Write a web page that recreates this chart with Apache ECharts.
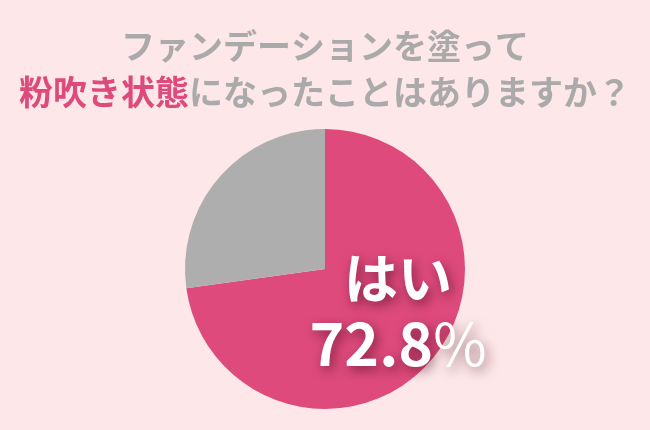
<!DOCTYPE html>
<html><head><meta charset="utf-8">
<script src="https://cdn.jsdelivr.net/npm/echarts@6/dist/echarts.min.js"></script>
<style>html,body{margin:0;padding:0;background:#fde7e8;}#c{width:650px;height:430px;}</style>
</head><body><div id="c"></div>
<script>
var titleLine1 = 'ファンデーションを塗って';
var titleHighlight = '粉吹き状態';
var titleRest = 'になったことはありますか？';
var categories = ['はい', 'いいえ'];
var values = [72.8, 27.2];
var colors = ['#de4a7c', '#aeaeae'];

var chart = echarts.init(document.getElementById('c'));
var FONT = '"Noto Sans CJK JP", "Noto Sans", sans-serif';
var SH = {textShadowColor: 'rgba(60,0,20,0.55)', textShadowBlur: 12, textShadowOffsetX: 3, textShadowOffsetY: 4};
function rs(o) { return Object.assign({}, SH, o); }
chart.setOption({
  backgroundColor: '#fde7e8',
  title: [{
    text: titleLine1,
    left: 'center', top: 24,
    textStyle: {fontFamily: FONT, fontSize: 34, fontWeight: 'bold', color: '#aaaaaa'}
  }, {
    text: '{p|' + titleHighlight + '}{g|' + titleRest + '}',
    left: 'center', top: 70,
    textStyle: {
      fontFamily: FONT, fontSize: 34, fontWeight: 'bold',
      rich: {
        p: {fontFamily: FONT, fontSize: 34, fontWeight: 'bold', color: '#de4a7c'},
        g: {fontFamily: FONT, fontSize: 34, fontWeight: 'bold', color: '#aaaaaa'}
      }
    }
  }],
  series: [{
    type: 'pie',
    center: [325, 269],
    radius: [0, 140],
    startAngle: 90,
    clockwise: true,
    silent: true,
    data: categories.map(function (c, i) {
      return {
        name: c, value: values[i],
        itemStyle: {color: colors[i]},
        label: {show: i === 0}
      };
    }),
    label: {
      position: 'inside',
      formatter: function (p) { return '{a|' + p.name + '}\n{b|' + p.value.toFixed(1) + '}{c|%}'; },
      textShadowColor: 'rgba(60,0,20,0.55)',
      textShadowBlur: 12,
      textShadowOffsetX: 3,
      textShadowOffsetY: 4,
      rich: {
        a: rs({fontFamily: FONT, fontSize: 54, fontWeight: 'bold', color: '#fff', lineHeight: 64}),
        b: rs({fontFamily: FONT, fontSize: 59, fontWeight: 'bold', color: '#fff', lineHeight: 66}),
        c: rs({fontFamily: FONT, fontSize: 58, fontWeight: 'normal', color: '#fff', lineHeight: 66})
      }
    },
    labelLine: {show: false},
    labelLayout: {dx: 18, dy: -5}
  }]
});
</script></body></html>
